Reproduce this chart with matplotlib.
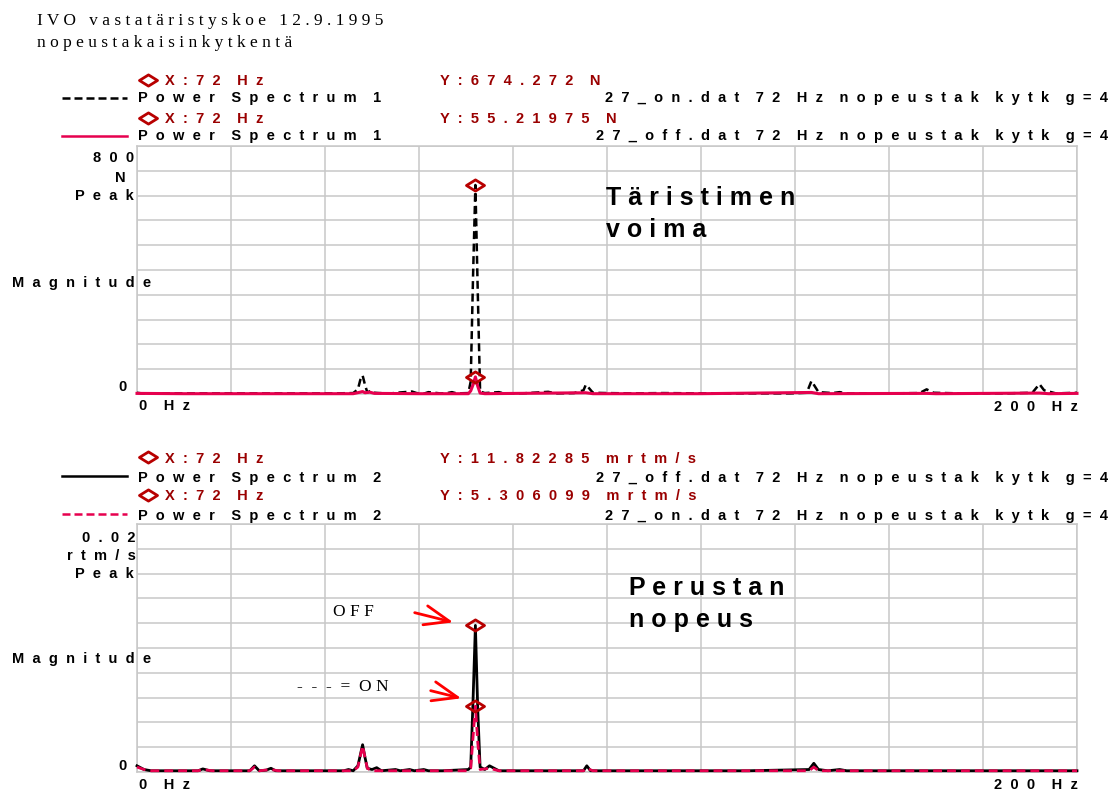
import matplotlib
matplotlib.use("Agg")
import matplotlib.pyplot as plt
import numpy as np
from matplotlib.lines import Line2D
from matplotlib.path import Path
from matplotlib.patches import FancyArrowPatch

# --- data read off the analyser print-out -------------------------------
# upper panel: shaker force, N
force_on_hz = [0, 1, 5, 12, 20, 28, 35, 42, 46, 47, 47.5, 48, 48.5, 49, 50, 50.5, 51.5,
               54, 56, 58.5, 59.5, 61, 62, 64.5, 66, 67, 68, 70.5, 71, 71.5, 72, 72.5,
               73, 74, 77, 78, 82, 87.5, 89, 93, 95, 95.5, 96, 97, 100, 105, 112, 120,
               130, 139, 142.5, 143.5, 144, 145, 148, 149.5, 151, 160, 166.5, 168,
               169.5, 175, 185, 190.5, 192, 193, 194, 195.5, 200]
force_on = [4, 2, 2, 2, 2, 2, 2, 2, 3, 15, 45, 60, 30, 5, 12, 4, 3,
            2, 5, 8, 3, 1, 6, 2, 3, 6, 2, 3, 40, 380, 674.272, 330,
            8, 3, 6, 2, 2, 7, 2, 3, 12, 30, 22, 4, 3, 2, 3, 2,
            2, 2, 4, 42, 30, 6, 3, 6, 2, 2, 3, 15,
            4, 2, 2, 4, 32, 12, 8, 2, 4]
force_off_hz = [0, 10, 30, 46, 47.5, 48, 48.5, 49.5, 50.5, 60, 70.5, 71, 71.5, 72, 72.5,
                73, 74, 95.5, 97, 120, 143.5, 145, 168, 170, 192, 194, 200]
force_off = [2, 1, 1, 1, 6, 8, 4, 6, 2, 1, 1, 10, 30, 55.21975, 25,
             3, 1, 4, 1, 1, 5, 1, 2, 1, 3, 1, 2]

# lower panel: foundation velocity, rtm/s
vel_off_hz = [0, 0.5, 1.5, 3, 8, 13, 14, 15.5, 20, 24, 25, 26, 27.5, 28.5, 29.5, 35,
              44, 45, 46, 47, 48, 48.5, 49, 50, 51, 52, 55, 56, 58, 59, 61, 62, 65,
              70.5, 71, 71.5, 72, 72.5, 73, 74, 75, 76, 77, 85, 95, 95.7, 96.5, 110,
              120, 130, 143, 144, 145, 147, 149.5, 151, 170, 180, 200]
vel_off = [0.0005, 0.0004, 0.0002, 0.0001, 0.0001, 0.0001, 0.00025, 0.0001, 0.0001,
           0.0001, 0.0005, 0.0001, 0.00015, 0.0003, 0.0001, 0.0001,
           0.0001, 0.0002, 0.0001, 0.0005, 0.0022, 0.0012, 0.0003, 0.0002, 0.00035,
           0.0001, 0.0002, 0.0001, 0.0002, 0.0001, 0.0002, 0.0001, 0.0001,
           0.0002, 0.0004, 0.0058, 0.01182285, 0.005, 0.0004, 0.0002, 0.0005, 0.0003,
           0.0001, 0.0001, 0.0001, 0.0005, 0.0001, 0.0001,
           0.0001, 0.0001, 0.0002, 0.0007, 0.0002, 0.0001, 0.0002, 0.0001, 0.0001,
           0.0001, 0.0001]
vel_on_hz = [0, 1.5, 3, 13, 14, 16, 24, 25, 26, 28.5, 30, 46, 47, 48, 49, 50, 60,
             70.5, 71, 71.5, 72, 72.5, 73, 75, 77, 95, 95.7, 97, 143, 144, 145, 200]
vel_on = [0.0004, 0.0002, 0.0001, 0.0001, 0.0002, 0.0001, 0.0001, 0.0004, 0.0001,
          0.0002, 0.0001, 0.0001, 0.0004, 0.0021, 0.0003, 0.0001, 0.0001,
          0.0001, 0.0003, 0.0028, 0.005306099, 0.0024, 0.0002, 0.0003, 0.0001,
          0.0001, 0.0003, 0.0001, 0.0001, 0.0004, 0.0001, 0.0001]

# --- layout helpers -------------------------------------------------------
W, H = 1115, 792
SANS, SERIF = "Liberation Sans", "Liberation Serif"
DRED = "#9a0000"
MARK = "#b80000"
PINK = "#e6004e"
GRID = "#c8c8c8"
DIAMOND = Path([(-1, 0), (0, 0.62), (1, 0), (0, -0.62), (-1, 0)],
               [Path.MOVETO, Path.LINETO, Path.LINETO, Path.LINETO, Path.CLOSEPOLY])

fig = plt.figure(figsize=(W / 100, H / 100), dpi=100)


def fx(x):
    return x / W


def fy(y):
    return 1 - y / H


def sp(s, gap=2, word=4):
    # the plotter prints with very wide letter spacing
    return (" " * word).join((" " * gap).join(w) for w in s.split())


def label(x, y, s, ha="left", color="black", size=10.5, gap=2, word=4):
    fig.text(fx(x), fy(y), sp(s, gap, word), ha=ha, va="baseline", color=color,
             fontsize=size, family=SANS, weight="bold")


def serif(x, y, s, size=12.5, gap=1, word=3):
    fig.text(fx(x), fy(y), sp(s, gap, word), ha="left", va="baseline", fontsize=size,
             family=SERIF)


def key_line(y, color, ls):
    fig.add_artist(Line2D([fx(62), fx(127)], [fy(y), fy(y)], color=color, lw=1.8,
                          ls=ls, transform=fig.transFigure))


def key_diamond(y):
    fig.add_artist(Line2D([fx(148)], [fy(y)], marker=DIAMOND, ms=13, mfc="none",
                          mec=MARK, mew=2, transform=fig.transFigure))


def setup(ax, ymax):
    ax.set_xlim(0, 200)
    ax.set_ylim(0, ymax)
    ax.set_xticks(np.linspace(0, 200, 11))
    ax.set_yticks(np.linspace(0, ymax, 11))
    ax.grid(True, color=GRID, lw=1.1)
    ax.tick_params(length=0, labelbottom=False, labelleft=False)
    for s in ax.spines.values():
        s.set_color(GRID)
        s.set_linewidth(1.1)


def peak(ax, f, v):
    i = int(np.argmax(v))
    ax.plot(f[i], v[i], marker=DIAMOND, ms=13, mfc="none", mec=MARK, mew=2,
            zorder=6, clip_on=False)


DASH = (0, (3.2, 1.8))

# --- upper panel ----------------------------------------------------------
ax1 = fig.add_axes([fx(137), fy(394), (1077 - 137) / W, (394 - 146) / H])
setup(ax1, 800)
ax1.plot(force_on_hz, force_on, color="black", lw=1.8, ls=DASH, clip_on=False, zorder=3)
ax1.plot(force_off_hz, force_off, color=PINK, lw=2.2, clip_on=False, zorder=4)
peak(ax1, force_on_hz, force_on)
peak(ax1, force_off_hz, force_off)

serif(37, 25, "IVO vastatäristyskoe 12.9.1995")
serif(37, 47, "nopeustakaisinkytkentä")

key_diamond(80)
label(165, 85, "X:72 Hz", color=DRED)
label(440, 85, "Y:674.272 N", color=DRED)
key_line(97.5, "black", (0, (3.2, 1.6)))
label(138, 102, "Power Spectrum 1")
label(1108, 102, "27_on.dat 72 Hz nopeustak kytk g=4", ha="right")
key_diamond(118)
label(165, 123, "X:72 Hz", color=DRED)
label(440, 123, "Y:55.21975 N", color=DRED)
key_line(136, PINK, "-")
label(138, 140, "Power Spectrum 1")
label(1108, 140, "27_off.dat 72 Hz nopeustak kytk g=4", ha="right")

label(134, 162, "800", ha="right")
label(126, 182, "N", ha="right")
label(134, 200, "Peak", ha="right")
label(12, 287, "Magnitude")
label(127, 391, "0", ha="right")
label(139, 410, "0 Hz")
label(1078, 411, "200 Hz", ha="right")
label(606, 205, "Täristimen", size=18, gap=1, word=3)
label(606, 237, "voima", size=18, gap=1, word=3)

# --- lower panel ----------------------------------------------------------
ax2 = fig.add_axes([fx(137), fy(772), (1077 - 137) / W, (772 - 524) / H])
setup(ax2, 0.02)
ax2.plot(vel_off_hz, vel_off, color="black", lw=2.0, clip_on=False, zorder=3)
ax2.plot(vel_on_hz, vel_on, color=PINK, lw=2.0, ls=DASH, clip_on=False, zorder=4)
peak(ax2, vel_off_hz, vel_off)
peak(ax2, vel_on_hz, vel_on)

key_diamond(457)
label(165, 463, "X:72 Hz", color=DRED)
label(440, 463, "Y:11.82285 mrtm/s", color=DRED)
key_line(476, "black", "-")
label(138, 482, "Power Spectrum 2")
label(1108, 482, "27_off.dat 72 Hz nopeustak kytk g=4", ha="right")
key_diamond(495)
label(165, 500, "X:72 Hz", color=DRED)
label(440, 500, "Y:5.306099 mrtm/s", color=DRED)
key_line(514, PINK, (0, (3.2, 1.6)))
label(138, 520, "Power Spectrum 2")
label(1108, 520, "27_on.dat 72 Hz nopeustak kytk g=4", ha="right")

label(135, 542, "0.02", ha="right")
label(136, 560, "rtm/s", ha="right")
label(134, 578, "Peak", ha="right")
label(12, 663, "Magnitude")
label(127, 770, "0", ha="right")
label(139, 789, "0 Hz")
label(1078, 789, "200 Hz", ha="right")
label(629, 595, "Perustan", size=18, gap=1, word=3)
label(629, 627, "nopeus", size=18, gap=1, word=3)

serif(333, 616, "OFF")
serif(297, 691, "- - - = ON", gap=1, word=2)
for a, b in [((412, 612), (456, 623)), ((428, 690), (464, 699))]:
    fig.add_artist(FancyArrowPatch((fx(a[0]), fy(a[1])), (fx(b[0]), fy(b[1])),
                                   transform=fig.transFigure, color="red", lw=2,
                                   arrowstyle="->,head_length=0.9,head_width=0.35",
                                   mutation_scale=20))

fig.savefig("out.png", dpi=100)
